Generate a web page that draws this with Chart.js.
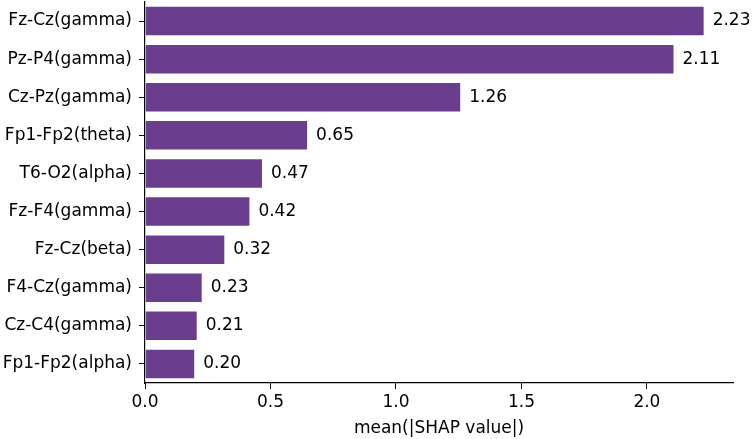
<!DOCTYPE html>
<html>
<head>
<meta charset="utf-8">
<script src="https://cdn.jsdelivr.net/npm/chart.js@4/dist/chart.umd.min.js"></script>
<style>
  html, body { margin: 0; padding: 0; background: #fff; }
  #wrap { width: 752px; height: 439px; }
</style>
</head>
<body>
<div id="wrap"><canvas id="shapChart"></canvas></div>
<script>
// --- data ---
const features = [
    'Fz-Cz(gamma)', 'Pz-P4(gamma)', 'Cz-Pz(gamma)', 'Fp1-Fp2(theta)', 'T6-O2(alpha)',
    'Fz-F4(gamma)', 'Fz-Cz(beta)', 'F4-Cz(gamma)', 'Cz-C4(gamma)', 'Fp1-Fp2(alpha)'
];
const shapValues = [2.23, 2.11, 1.26, 0.65, 0.47, 0.42, 0.32, 0.23, 0.21, 0.20];
const xTicks = [0, 0.5, 1.0, 1.5, 2.0];
const xTitle = 'mean(|SHAP value|)';

const FONT = 'DejaVu Sans';
const barColor = '#6a3d8f';

// value labels to the right of each bar
const valueLabels = {
    id: 'valueLabels',
    afterDatasetsDraw(chart) {
        const { ctx } = chart;
        const meta = chart.getDatasetMeta(0);
        ctx.save();
        ctx.font = `17px "${FONT}"`;
        ctx.fillStyle = '#000';
        ctx.textAlign = 'left';
        ctx.textBaseline = 'middle';
        meta.data.forEach((bar, i) => {
            ctx.fillText(shapValues[i].toFixed(2), bar.x + 8, bar.y);
        });
        ctx.restore();
    }
};

new Chart(document.getElementById('shapChart'), {
    type: 'bar',
    data: {
        labels: features,
        datasets: [{
            data: shapValues,
            backgroundColor: barColor,
            borderColor: 'rgba(255,255,255,0.25)',
            borderWidth: 1,
            barPercentage: 0.8,
            categoryPercentage: 1.0
        }]
    },
    options: {
        indexAxis: 'y',
        responsive: true,
        maintainAspectRatio: false,
        animation: false,
        layout: { padding: { top: 2, right: 19, left: 0, bottom: 0 } },
        plugins: {
            legend: { display: false },
            tooltip: { enabled: false }
        },
        scales: {
            x: {
                min: 0,
                max: 2.343,
                afterBuildTicks: (scale) => {
                    scale.ticks = xTicks.map(v => ({ value: v }));
                },
                afterFit: (scale) => {
                    scale.height = 56;
                    scale.paddingLeft = 0;
                    scale.paddingRight = 0;
                },
                ticks: {
                    color: '#000',
                    font: { family: FONT, size: 17 },
                    padding: 3,
                    maxRotation: 0,
                    callback: (v) => Number(v).toFixed(1)
                },
                grid: {
                    drawOnChartArea: false,
                    drawTicks: true,
                    tickLength: 6,
                    tickColor: '#000',
                    tickWidth: 1
                },
                border: { display: true, color: '#000', width: 1.2 },
                title: {
                    display: true,
                    text: xTitle,
                    color: '#000',
                    font: { family: FONT, size: 17 },
                    padding: { top: 2, bottom: 0 }
                }
            },
            y: {
                afterFit: (scale) => {
                    scale.width = 145;
                    scale.paddingTop = 0;
                    scale.paddingBottom = 0;
                },
                ticks: {
                    color: '#000',
                    font: { family: FONT, size: 17 },
                    padding: 7
                },
                grid: {
                    offset: false,
                    drawOnChartArea: false,
                    drawTicks: true,
                    tickLength: 6,
                    tickColor: '#000',
                    tickWidth: 1
                },
                border: { display: true, color: '#000', width: 1.2 }
            }
        }
    },
    plugins: [valueLabels]
});
</script>
</body>
</html>
